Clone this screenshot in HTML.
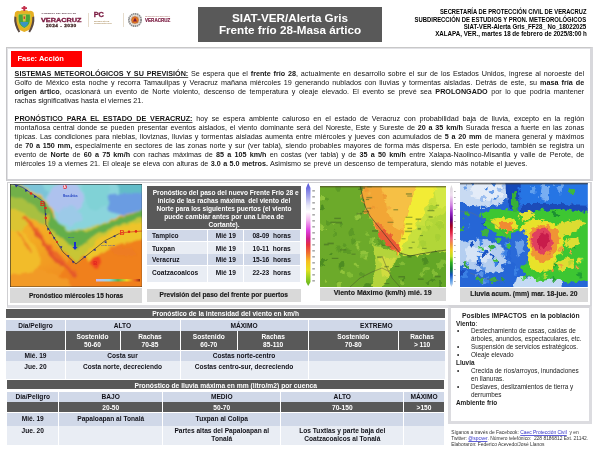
<!DOCTYPE html>
<html lang="es">
<head>
<meta charset="utf-8">
<title>SIAT-VER Alerta Gris Frente frío 28</title>
<style>
*{margin:0;padding:0;box-sizing:border-box}
html,body{width:600px;height:450px;overflow:hidden;background:#fff}
body{position:relative;font-family:"Liberation Sans",Arial,sans-serif;color:#222}
.a{position:absolute}
.title{left:198px;top:7px;width:184px;height:35px;background:#595959;color:#fff;font-weight:bold;font-size:11.7px;line-height:12.3px;text-align:center;padding-top:5.2px}
.hdr{right:13.6px;text-align:right;font-weight:bold;color:#000;white-space:nowrap}
.box1{left:6px;top:47px;width:587px;height:134px;border:1px solid #c6c6c8;border-right:3px solid #d8d8dc;border-bottom:2px solid #d0d0d4;border-top:1px solid #c8c8c8;box-shadow:inset 1px 1px 0 #e2e2e6}
.fase{left:11px;top:51px;width:71px;height:15.5px;background:#f00;color:#fff;font-weight:bold;font-size:7.5px;line-height:15.5px;padding-left:6.5px}
.p{left:14.6px;width:569.6px;font-size:7.2px;line-height:9px;color:#141414}
.p div{text-align:justify;text-align-last:justify;white-space:nowrap}
.p div.l{text-align-last:left}
.u{text-decoration:underline;text-decoration-thickness:1px;text-underline-offset:0.5px;text-decoration-color:#555}
b{font-weight:bold}
.box2{left:7px;top:181.5px;width:585px;height:126px;border:1px solid #cfcfd2;border-right:2px solid #d8d8dc;border-bottom:3px solid #dedee2}
.cap{background:#d9d9d9;color:#1a1a1a;font-weight:bold;text-align:center;font-size:6.6px;white-space:nowrap;-webkit-text-stroke:0.15px #1a1a1a}
.dk{background:#595959;color:#fff}
.b1{background:#d0d8e8}
.b2{background:#e9edf4}
.vl{background:#fff}
.c{font-weight:bold;color:#111118;white-space:nowrap;text-align:center}
.w{font-weight:bold;color:#fff;white-space:nowrap;text-align:center}
.imp{left:447.5px;top:304.5px;width:144.5px;height:119.5px;border:3px solid #dcdce0;border-top:3.5px solid #d4d4d8;background:#fff}
.imptx{left:456px;top:311.6px;font-size:6.4px;line-height:7.92px;color:#1a1a1a;white-space:nowrap}
.imptx .bu{display:inline-block;width:15px;padding-left:1px}
.imptx .ind{padding-left:15px}
.foot{left:451.2px;top:429.7px;font-size:4.9px;line-height:6px;color:#333;white-space:nowrap}
.foot u{color:#3030c8;text-decoration:underline;text-decoration-thickness:0.5px;text-underline-offset:0.8px;text-decoration-color:#6060d8}
</style>
</head>
<body>
<svg class="a" style="left:10px;top:3px" width="30" height="32" viewBox="0 0 30 32">
<path d="M5,9.5 Q7,6.8 10,8.3 Q12,6.3 14.3,7.8 Q16.6,6.3 18.6,8.3 Q21.6,6.8 23.6,9.5 L24,12.5 Q24.5,20 22,24.5 Q19,27.8 14.3,29 Q9.6,27.8 6.6,24.5 Q4,20 4.6,12.5 Z" fill="#e6b024"/>
<path d="M8,10.8 L20.6,10.8 Q21.3,18 19.6,21.3 Q17.5,24.6 14.3,25.8 Q11.1,24.6 9,21.3 Q7.3,18 8,10.8 Z" fill="#c8cc3c"/>
<path d="M8.8,11.6 L19.8,11.6 Q20.4,18 18.9,21 Q17,24 14.3,24.9 Q11.6,24 9.7,21 Q8.2,18 8.8,11.6 Z" fill="#4aa43a"/>
<path d="M10.2,19 L18.4,19 Q17.8,22.6 14.3,24.3 Q10.8,22.6 10.2,19 Z" fill="#3a94c4"/>
<path d="M12.6,11.8 L16,11.8 L15.6,18.6 L13,18.6 Z" fill="#d4c444"/>
<path d="M13.5,13.5 L15.1,13.5 L14.9,16 L13.7,16 Z" fill="#c84030"/>
<path d="M4.4,13.5 Q3.4,21.5 8.6,29.5 L10.2,28.6 Q5.9,21.5 6.3,14 Z" fill="#5a4a44"/>
<path d="M24.2,13.5 Q25.2,21.5 20,29.5 L18.4,28.6 Q22.7,21.5 22.3,14 Z" fill="#5a4a44"/>
<path d="M13.3,2.9 L15.3,2.9 L15.3,4.3 L17,4.3 L17,6.1 L15.3,6.1 L15.3,8 L13.3,8 L13.3,6.1 L11.6,6.1 L11.6,4.3 L13.3,4.3 Z" fill="#c4304c"/>
</svg>
<div class="a" style="left:41.5px;top:11.8px;width:40px;font-size:2.35px;line-height:3px;font-weight:bold;color:#4a2a38;white-space:nowrap;letter-spacing:0.12px">GOBIERNO DEL ESTADO DE</div>
<div class="a" style="left:41.4px;top:15.7px;font-size:6px;line-height:8px;font-weight:900;color:#7a1a40;white-space:nowrap;letter-spacing:0px;transform:scaleX(1.215);transform-origin:0 0;-webkit-text-stroke:0.35px #7a1a40">VERACRUZ</div>
<div class="a" style="left:45.6px;top:22.6px;font-size:4.4px;line-height:5px;font-weight:bold;color:#4a3030;white-space:nowrap;letter-spacing:0.45px;transform:scaleX(1.08);transform-origin:0 0;-webkit-text-stroke:0.3px #4a3030">2024 - 2030</div>
<div class="a" style="left:88.3px;top:13px;width:0.7px;height:14px;background:#e6dccc"></div>
<div class="a" style="left:93.8px;top:11.2px;font-size:7.4px;line-height:8px;font-weight:bold;color:#7a1a40;white-space:nowrap;letter-spacing:-0.2px;-webkit-text-stroke:0.3px #7a1a40">PC</div>
<div class="a" style="left:94px;top:20px;font-size:1.9px;line-height:2.3px;font-weight:bold;color:#a88a58;white-space:nowrap">SECRETARÍA DE<br>PROTECCIÓN CIVIL</div>
<div class="a" style="left:122.6px;top:12.7px;width:0.7px;height:14.3px;background:#e6dccc"></div>
<svg class="a" style="left:127.5px;top:13.3px" width="14" height="14" viewBox="0 0 14 14">
<circle cx="7" cy="7" r="6.1" fill="none" stroke="#8c8c8c" stroke-width="1.9" stroke-dasharray="1.5 0.5"/>
<circle cx="7" cy="7" r="4.4" fill="#fff" stroke="#c0a070" stroke-width="0.5"/>
<circle cx="7" cy="7" r="3.6" fill="#e87a20" stroke="#7a3a30" stroke-width="0.4"/>
<path d="M7,4.6 L9,8.6 L5,8.6 Z" fill="#7a1a40"/>
</svg>
<div class="a" style="left:145px;top:16.3px;font-size:1.55px;line-height:2.2px;font-weight:bold;color:#b07a70;white-space:nowrap">PROTECCIÓN CIVIL DEL ESTADO</div>
<div class="a" style="left:145px;top:18.2px;font-size:5px;line-height:5px;font-weight:900;color:#7a1a40;white-space:nowrap;letter-spacing:0.05px;transform:scaleX(0.9);transform-origin:0 0;-webkit-text-stroke:0.2px #7a1a40">VERACRUZ</div>
<div class="a title">SIAT-VER/Alerta Gris<br>Frente frío 28-Masa ártico</div>
<div class="a hdr" style="font-size:6.3px;line-height:8px;top:8.30px;transform:scaleX(0.919);transform-origin:100% 50%">SECRETARÍA DE PROTECCIÓN CIVIL DE VERACRUZ</div>
<div class="a hdr" style="font-size:6.3px;line-height:8px;top:15.80px;transform:scaleX(0.937);transform-origin:100% 50%">SUBDIRECCIÓN DE ESTUDIOS Y PRON. METEOROLÓGICOS</div>
<div class="a hdr" style="font-size:6.3px;line-height:8px;top:22.90px;transform:scaleX(0.971);transform-origin:100% 50%">SIAT-VER-Alerta Gris_FF28_ No_18022025</div>
<div class="a hdr" style="font-size:6.3px;line-height:8px;top:30.40px;transform:scaleX(0.986);transform-origin:100% 50%">XALAPA, VER., martes 18 de febrero de 2025/8:00 h</div>
<div class="a box1"></div>
<div class="a fase">Fase: Acción</div>
<div class="a p" style="top:68.5px">
<div><b class="u">SISTEMAS METEOROLÓGICOS Y SU PREVISIÓN:</b> Se espera que el <b>frente frío 28</b>, actualmente en desarrollo sobre el sur de los Estados Unidos, ingrese al noroeste del</div>
<div>Golfo de México esta noche y recorra Tamaulipas y Veracruz mañana miércoles 19 generando nublados con lluvias y tormentas aisladas. Detrás de este, su <b>masa fría de</b></div>
<div><b>origen ártico</b>, ocasionará un evento de Norte violento, descenso de temperatura y oleaje elevado. El evento se prevé sea <b>PROLONGADO</b> por lo que podría mantener</div>
<div class="l">rachas significativas hasta el viernes 21.</div>
</div>
<div class="a p" style="top:113.9px">
<div><b class="u">PRONÓSTICO PARA EL ESTADO DE VERACRUZ:</b> hoy se espera ambiente caluroso en el estado de Veracruz con probabilidad baja de lluvia, excepto en la región</div>
<div>montañosa central donde se pueden presentar eventos aislados, el viento dominante será del Noreste, Este y Sureste de <b>20 a 35 km/h</b> Surada fresca a fuerte en las zonas</div>
<div>típicas. Las condiciones para nieblas, lloviznas, lluvias y tormentas aisladas aumenta entre miércoles y jueves con acumulados de <b>5 a 20 mm</b> de manera general y máximos</div>
<div>de <b>70 a 150 mm,</b> especialmente en sectores de las zonas norte y sur (ver tabla), siendo probables mayores de forma más dispersa. En este periodo, también se registra un</div>
<div>evento de <b>Norte</b> de <b>60 a 75 km/h</b> con rachas máximas de <b>85 a 105 km/h</b> en costas (ver tabla) y de <b>35 a 50 km/h</b> entre Xalapa-Naolinco-Misantla y valle de Perote, de</div>
<div class="l" style="word-spacing:0.4px">miércoles 19 a viernes 21. El oleaje se eleva con alturas de <b>3.0 a 5.0 metros.</b> Asimismo se prevé un descenso de temperatura, siendo más notable el jueves.</div>
</div>
<div class="a box2"></div>
<svg class="a" style="left:10px;top:184.3px" width="132.4" height="103.2" viewBox="0 0 132.4 103.2">
<defs>
<filter id="bl1" x="-20%" y="-20%" width="140%" height="140%"><feTurbulence type="fractalNoise" baseFrequency="0.12" numOctaves="2" seed="2" result="n"/><feDisplacementMap in="SourceGraphic" in2="n" scale="6" xChannelSelector="R" yChannelSelector="G" result="d"/><feGaussianBlur in="d" stdDeviation="1.2"/></filter>
<clipPath id="cp1"><rect width="132.4" height="103.2"/></clipPath>
<linearGradient id="g1cold" x1="0" y1="0" x2="1" y2="0">
<stop offset="0" stop-color="#9ec8ea"/><stop offset="0.35" stop-color="#b4cdf0"/><stop offset="0.6" stop-color="#86d4dc"/><stop offset="1" stop-color="#6cb8d8"/>
</linearGradient>
<linearGradient id="g1base" x1="0" y1="0" x2="0.6" y2="1">
<stop offset="0" stop-color="#f4c02a"/><stop offset="0.5" stop-color="#f3a824"/><stop offset="1" stop-color="#f07e1c"/>
</linearGradient>
</defs>
<g clip-path="url(#cp1)">
<g filter="url(#bl1)">
<rect x="-5" y="-5" width="145" height="115" fill="url(#g1base)"/>
<!-- orange warm right/bottom -->
<path d="M60,72 L95,54 L140,44 L140,110 L40,110 Z" fill="#f0801e"/>
<path d="M-5,40 L12,44 L30,70 L28,92 L-5,96 Z" fill="#f2bc2c"/>
<path d="M-5,92 L30,86 L60,96 L60,110 L-5,110 Z" fill="#f29a26"/>
<!-- yellow warm sector right -->
<path d="M70,66 L95,50 L115,40 L140,33 L140,54 L116,58 L98,66 L80,78 Z" fill="#eec42c"/>
<!-- yellow-green inside V -->
<path d="M38,30 L60,44 L90,40 L140,25 L140,36 L110,43 L92,52 L66,80 L50,62 L37,44 Z" fill="#c8c634"/>
<!-- green band -->
<path d="M38,20 L46,36 L58,47 L76,46 L95,40 L112,33 L140,24 L140,31 L112,40 L92,48 L78,57 L66,66 L54,57 L39,43 Z" fill="#64ae4a"/>
<!-- green/teal top-left -->
<path d="M-5,-2 L12,3 L34,17 L40,24 L36,32 L26,24 L14,20 L-5,20 Z" fill="#72b04a"/>
<path d="M-5,14 L12,14 L28,24 L36,34 L36,42 L24,36 L10,30 L-5,30 Z" fill="#a8c040"/>
<path d="M-5,26 L8,26 L20,34 L14,46 L-5,46 Z" fill="#dcc430"/>
<!-- cold region -->
<path d="M-5,-5 L140,-5 L140,24 L111,32 L93,39 L74,44 L58,46 L48,38 L42,24 L36,16 L13,2 L-5,-3 Z" fill="#8ad4dc"/>
<path d="M-5,-5 L30,-5 L38,10 L36,16 L13,2 L-5,-3 Z" fill="#7cc4d8"/>
<ellipse cx="56" cy="14" rx="18" ry="16" fill="#aec2ee"/>
<ellipse cx="60" cy="32" rx="12" ry="9" fill="#9ccae8"/>
<path d="M96,12 L140,6 L140,24 L111,32 L98,28 Z" fill="#6a9ce2"/>
<path d="M104,-5 L140,-5 L140,8 L110,10 Z" fill="#62bcc8"/>
<path d="M72,-5 L100,-5 L98,20 L84,28 L76,18 Z" fill="#80d2d6"/>
<!-- sierra madre stripes -->
<path d="M12,32 L16,32 L42,64 L66,88 L63,90 L38,67 Z" fill="#ec6a26"/>
<path d="M22,46 L25,46 L48,75 L68,92 L65,93 L44,77 Z" fill="#e4562a"/>
<path d="M6,46 L9,47 L22,68 L19,69 Z" fill="#ee8826"/>
<!-- yucatan red blob -->
<ellipse cx="86" cy="78" rx="5" ry="6" fill="#f04420"/>
<path d="M98,62 L122,64 L128,72 L104,70 Z" fill="#ee7a20" opacity="0.8"/>
</g>
<!-- front lines -->
<polyline points="1,-1 12.7,3.5 34.7,18.5" fill="none" stroke="#2030a0" stroke-width="0.7"/>
<polyline points="34.7,18.5 35.9,40.5 53,68 66,80 95,56.7 108.8,49.8" fill="none" stroke="#1a1e40" stroke-width="0.6"/>
<polyline points="108.8,49.8 113,48.6 132.4,47" fill="none" stroke="#d02020" stroke-width="0.6"/>
<g fill="#1c2298">
<path d="M5,1 l3,0.5 l-2,2 z"/><path d="M15,5 l3,1.5 l-2.5,1.5 z"/><path d="M24,11 l3,1.8 l-2.7,1.2 z"/>
<path d="M35,29 l2,1 l-2,1.5 z"/><path d="M37,44 l2.4,0.8 l-1.6,2 z"/><path d="M43,53 l2.4,0.6 l-1.4,2.2 z"/>
<path d="M50,62 l2.4,0.6 l-1.2,2.2 z"/><path d="M57,71 l2.4,0.4 l-1,2.2 z"/><path d="M62,77 l2.4,0.6 l-1.4,2 z"/>
<path d="M73,73 l2.4,-1.2 l0.4,2.4 z"/><path d="M83,66 l2.4,-1.4 l0.4,2.4 z"/><path d="M94,58 l2.4,-1 l0.2,2.4 z"/><path d="M103,52 l2.4,-0.8 l0,2.4 z"/>
</g>
<g fill="#e02818">
<circle cx="21" cy="9.5" r="1.3"/><circle cx="35.5" cy="24" r="1.3"/><circle cx="35.8" cy="34" r="1.2"/><circle cx="40" cy="49" r="1.2"/><circle cx="47" cy="58" r="1.1"/>
<circle cx="119" cy="47.8" r="1.3"/><circle cx="126" cy="47.4" r="1.3"/>
</g>
<text x="30" y="22.5" font-family="Liberation Sans,Arial,sans-serif" font-weight="bold" font-size="7" fill="#e02818">B</text>
<text x="109.5" y="51.5" font-family="Liberation Sans,Arial,sans-serif" font-weight="bold" font-size="7" fill="#e84020">B</text>
<text x="83.2" y="81" font-family="Liberation Sans,Arial,sans-serif" font-weight="bold" font-size="5.5" fill="#e02020">B</text>
<circle cx="55" cy="3" r="2" fill="#e03040"/><text x="53.6" y="4.3" font-family="Liberation Sans,Arial,sans-serif" font-weight="bold" font-size="3.4" fill="#fff">A</text>
<text x="53" y="13" font-family="Liberation Sans,Arial,sans-serif" font-weight="bold" font-size="2.6" fill="#2040c0">Masa Ártica</text>
<text x="58" y="54" font-family="Liberation Sans,Arial,sans-serif" font-size="2.2" fill="#2040c0">Nuevo</text>
<text x="91" y="62" font-family="Liberation Sans,Arial,sans-serif" font-size="2.2" fill="#2040c0">Frente Frío 28</text>
<path d="M64,58 l0,5 l-1.5,0 l2.5,3 l2.5,-3 l-1.5,0 l0,-5 z" fill="#1a30d0"/>
<!-- legend bar -->
<rect x="86" y="95" width="44" height="2.5" fill="url(#g1leg)"/>
<linearGradient id="g1leg"><stop offset="0" stop-color="#c8b8f0"/><stop offset="0.3" stop-color="#90d8e0"/><stop offset="0.5" stop-color="#60b050"/><stop offset="0.7" stop-color="#f0d020"/><stop offset="0.9" stop-color="#e86020"/><stop offset="1" stop-color="#903010"/></linearGradient>
</g>
<rect x="0.3" y="0.3" width="131.8" height="102.6" fill="none" stroke="#2a2a2a" stroke-width="0.6"/>
</svg>
<div class="a cap" style="left:10px;top:287.6px;width:132.2px;height:15.0px;font-size:6.48px;line-height:15.31px">Pronóstico miércoles 15 horas</div>
<div class="a dk" style="left:146.7px;top:186.0px;width:154.1px;height:43.0px;"></div>
<div class="a w" style="left:146.7px;top:190.30px;width:154.1px;font-size:7.10px;line-height:7.9px;transform:scaleX(0.926);transform-origin:50% 50%;">Pronóstico del paso del nuevo Frente Frío 28 e<br>inicio de las rachas máxima&nbsp; del viento del<br>Norte para los siguientes puertos (el viento<br>puede cambiar antes por una Línea de<br>Cortante).</div>
<div class="a b1" style="left:146.7px;top:230.3px;width:153.8px;height:11.2px;"></div>
<div class="a b2" style="left:146.7px;top:241.5px;width:153.8px;height:12.8px;"></div>
<div class="a b1" style="left:146.7px;top:254.3px;width:153.8px;height:11.2px;"></div>
<div class="a b2" style="left:146.7px;top:265.5px;width:153.8px;height:16.8px;"></div>
<div class="a vl" style="left:207.2px;top:230.3px;width:1.0px;height:52.0px;"></div>
<div class="a vl" style="left:242.7px;top:230.3px;width:1.0px;height:52.0px;"></div>
<div class="a c" style="left:151.5px;top:232.30px;width:55.5px;font-size:7.13px;line-height:8px;transform:scaleX(0.926);transform-origin:0 50%;text-align:left">Tampico</div>
<div class="a c" style="left:207.5px;top:232.30px;width:35.7px;font-size:7.13px;line-height:8px;transform:scaleX(0.926);transform-origin:50% 50%;">Mié 19</div>
<div class="a c" style="left:243.2px;top:232.30px;width:57.3px;font-size:7.13px;line-height:8px;transform:scaleX(0.926);transform-origin:50% 50%;">08-09&nbsp; horas</div>
<div class="a c" style="left:151.5px;top:245.00px;width:55.5px;font-size:7.13px;line-height:8px;transform:scaleX(0.926);transform-origin:0 50%;text-align:left">Tuxpan</div>
<div class="a c" style="left:207.5px;top:245.00px;width:35.7px;font-size:7.13px;line-height:8px;transform:scaleX(0.926);transform-origin:50% 50%;">Mié 19</div>
<div class="a c" style="left:243.2px;top:245.00px;width:57.3px;font-size:7.13px;line-height:8px;transform:scaleX(0.926);transform-origin:50% 50%;">10-11&nbsp; horas</div>
<div class="a c" style="left:151.5px;top:256.30px;width:55.5px;font-size:7.13px;line-height:8px;transform:scaleX(0.926);transform-origin:0 50%;text-align:left">Veracruz</div>
<div class="a c" style="left:207.5px;top:256.30px;width:35.7px;font-size:7.13px;line-height:8px;transform:scaleX(0.926);transform-origin:50% 50%;">Mié 19</div>
<div class="a c" style="left:243.2px;top:256.30px;width:57.3px;font-size:7.13px;line-height:8px;transform:scaleX(0.926);transform-origin:50% 50%;">15-16&nbsp; horas</div>
<div class="a c" style="left:151.5px;top:269.00px;width:55.5px;font-size:7.13px;line-height:8px;transform:scaleX(0.926);transform-origin:0 50%;text-align:left">Coatzacoalcos</div>
<div class="a c" style="left:207.5px;top:269.00px;width:35.7px;font-size:7.13px;line-height:8px;transform:scaleX(0.926);transform-origin:50% 50%;">Mié 19</div>
<div class="a c" style="left:243.2px;top:269.00px;width:57.3px;font-size:7.13px;line-height:8px;transform:scaleX(0.926);transform-origin:50% 50%;">22-23&nbsp; horas</div>
<div class="a cap" style="left:147px;top:288.8px;width:153.5px;height:13.7px;font-size:6.61px;line-height:12.42px">Previsión del paso del frente por puertos</div>
<svg class="a" style="left:304px;top:182px" width="14" height="106" viewBox="0 0 14 106">
<defs><linearGradient id="cb1" x1="0" y1="0" x2="0" y2="1">
<stop offset="0" stop-color="#5050d8"/><stop offset="0.12" stop-color="#a0a0ec"/><stop offset="0.22" stop-color="#e8e8f8"/><stop offset="0.28" stop-color="#ffffff"/>
<stop offset="0.36" stop-color="#f4b8f0"/><stop offset="0.46" stop-color="#e040e0"/><stop offset="0.54" stop-color="#d02090"/><stop offset="0.6" stop-color="#e83040"/>
<stop offset="0.68" stop-color="#f07030"/><stop offset="0.76" stop-color="#f8c020"/><stop offset="0.84" stop-color="#e8e020"/><stop offset="0.92" stop-color="#98d020"/><stop offset="1" stop-color="#60b020"/>
</linearGradient></defs>
<path d="M2,6 L4.2,1 L6.5,6 L6.5,100 L4.2,104 L2,100 Z" fill="url(#cb1)"/>
<g fill="#888"><rect x="8.3" y="8" width="2.6" height="1.6" fill="#aaa"/><rect x="8.3" y="14" width="2.6" height="1.6" fill="#aaa"/><rect x="8.3" y="20" width="2.6" height="1.6" fill="#aaa"/><rect x="8.3" y="26" width="2.6" height="1.6" fill="#aaa"/><rect x="8.3" y="32" width="2.6" height="1.6" fill="#aaa"/><rect x="8.3" y="38" width="2.6" height="1.6" fill="#aaa"/><rect x="8.3" y="44" width="2.6" height="1.6" fill="#aaa"/><rect x="8.3" y="50" width="2.6" height="1.6" fill="#aaa"/><rect x="8.3" y="56" width="2.6" height="1.6" fill="#aaa"/><rect x="8.3" y="62" width="2.6" height="1.6" fill="#aaa"/><rect x="8.3" y="68" width="2.6" height="1.6" fill="#aaa"/><rect x="8.3" y="74" width="2.6" height="1.6" fill="#aaa"/><rect x="8.3" y="80" width="2.6" height="1.6" fill="#aaa"/><rect x="8.3" y="86" width="2.6" height="1.6" fill="#aaa"/><rect x="8.3" y="92" width="2.6" height="1.6" fill="#aaa"/><rect x="8.3" y="98" width="2.6" height="1.6" fill="#aaa"/></g>
</svg>
<svg class="a" style="left:319.5px;top:186px" width="126.5" height="101" viewBox="0 0 126.5 101">
<defs>
<filter id="bl2" x="-20%" y="-20%" width="140%" height="140%"><feTurbulence type="fractalNoise" baseFrequency="0.16" numOctaves="2" seed="9" result="n"/><feDisplacementMap in="SourceGraphic" in2="n" scale="7" xChannelSelector="R" yChannelSelector="G" result="d"/><feGaussianBlur in="d" stdDeviation="0.5"/></filter>
<filter id="bl2b" x="-20%" y="-20%" width="140%" height="140%"><feGaussianBlur stdDeviation="0.45"/></filter>
<clipPath id="cp2"><rect width="126.5" height="101"/></clipPath>
</defs>
<g clip-path="url(#cp2)">
<g filter="url(#bl2)">
<rect x="-5" y="-5" width="137" height="111" fill="#6caa2a"/>
<ellipse cx="78.5" cy="74.9" rx="3.1" ry="3.4" fill="#82bc34"/><ellipse cx="105.9" cy="78.4" rx="2.0" ry="1.6" fill="#5c9a26"/><ellipse cx="14.3" cy="47.4" rx="2.0" ry="2.6" fill="#5c9a26"/><ellipse cx="1.7" cy="21.9" rx="2.1" ry="3.3" fill="#4e8c22"/><ellipse cx="20.1" cy="80.5" rx="1.8" ry="2.7" fill="#5c9a26"/><ellipse cx="16.7" cy="98.2" rx="1.5" ry="3.0" fill="#5c9a26"/><ellipse cx="118.6" cy="69.8" rx="3.4" ry="3.3" fill="#90c43a"/><ellipse cx="2.7" cy="41.9" rx="3.4" ry="2.0" fill="#90c43a"/><ellipse cx="38.0" cy="60.9" rx="1.5" ry="2.9" fill="#90c43a"/><ellipse cx="8.3" cy="35.9" rx="2.1" ry="2.9" fill="#5c9a26"/><ellipse cx="60.6" cy="71.2" rx="1.6" ry="3.5" fill="#82bc34"/><ellipse cx="50.9" cy="55.5" rx="2.3" ry="2.3" fill="#82bc34"/><ellipse cx="57.1" cy="71.5" rx="2.7" ry="3.4" fill="#82bc34"/><ellipse cx="95.2" cy="93.9" rx="3.4" ry="2.2" fill="#90c43a"/><ellipse cx="58.3" cy="59.6" rx="3.1" ry="2.2" fill="#90c43a"/><ellipse cx="4.6" cy="95.5" rx="1.7" ry="2.2" fill="#90c43a"/><ellipse cx="39.4" cy="32.0" rx="1.9" ry="1.7" fill="#5c9a26"/><ellipse cx="61.0" cy="72.7" rx="1.7" ry="2.7" fill="#4e8c22"/><ellipse cx="4.0" cy="74.8" rx="2.2" ry="2.0" fill="#4e8c22"/><ellipse cx="18.3" cy="98.9" rx="2.8" ry="3.1" fill="#90c43a"/><ellipse cx="92.2" cy="95.9" rx="2.8" ry="3.1" fill="#82bc34"/><ellipse cx="21.3" cy="37.7" rx="1.6" ry="2.3" fill="#5c9a26"/><ellipse cx="57.1" cy="100.9" rx="3.2" ry="3.5" fill="#4e8c22"/><ellipse cx="121.0" cy="69.6" rx="2.1" ry="2.0" fill="#4e8c22"/><ellipse cx="47.5" cy="99.8" rx="3.4" ry="2.8" fill="#4e8c22"/><ellipse cx="62.0" cy="52.0" rx="2.6" ry="2.5" fill="#82bc34"/><ellipse cx="99.0" cy="78.3" rx="2.9" ry="2.8" fill="#90c43a"/><ellipse cx="45.8" cy="71.2" rx="2.1" ry="2.5" fill="#90c43a"/><ellipse cx="22.5" cy="86.0" rx="2.4" ry="3.0" fill="#90c43a"/><ellipse cx="81.2" cy="74.5" rx="3.2" ry="2.2" fill="#5c9a26"/><ellipse cx="109.6" cy="69.5" rx="3.5" ry="3.4" fill="#5c9a26"/><ellipse cx="105.4" cy="94.7" rx="2.5" ry="2.9" fill="#4e8c22"/><ellipse cx="21.7" cy="78.8" rx="2.7" ry="2.8" fill="#4e8c22"/><ellipse cx="38.1" cy="55.9" rx="3.2" ry="2.0" fill="#82bc34"/><ellipse cx="24.6" cy="59.2" rx="2.7" ry="1.9" fill="#5c9a26"/><ellipse cx="6.8" cy="13.5" rx="2.1" ry="1.9" fill="#5c9a26"/><ellipse cx="44.2" cy="66.9" rx="1.6" ry="1.9" fill="#90c43a"/><ellipse cx="0.1" cy="40.9" rx="2.1" ry="2.3" fill="#82bc34"/><ellipse cx="38.0" cy="29.8" rx="2.5" ry="3.4" fill="#90c43a"/><ellipse cx="120.7" cy="82.7" rx="2.3" ry="3.1" fill="#90c43a"/><ellipse cx="48.2" cy="48.2" rx="1.9" ry="1.8" fill="#82bc34"/><ellipse cx="44.2" cy="90.2" rx="1.5" ry="1.7" fill="#5c9a26"/><ellipse cx="41.0" cy="88.5" rx="2.6" ry="2.4" fill="#5c9a26"/><ellipse cx="62.2" cy="48.4" rx="2.9" ry="2.3" fill="#5c9a26"/><ellipse cx="52.4" cy="32.2" rx="3.5" ry="2.5" fill="#90c43a"/><ellipse cx="18.1" cy="2.4" rx="2.8" ry="3.4" fill="#5c9a26"/><ellipse cx="36.9" cy="79.0" rx="3.2" ry="1.5" fill="#90c43a"/><ellipse cx="30.7" cy="47.9" rx="1.6" ry="2.5" fill="#5c9a26"/><ellipse cx="62.0" cy="100.2" rx="2.5" ry="3.2" fill="#82bc34"/><ellipse cx="2.0" cy="12.7" rx="2.1" ry="2.9" fill="#90c43a"/><ellipse cx="44.1" cy="68.9" rx="3.1" ry="1.8" fill="#82bc34"/><ellipse cx="31.8" cy="46.0" rx="3.3" ry="3.3" fill="#5c9a26"/><ellipse cx="1.8" cy="78.6" rx="2.4" ry="2.7" fill="#4e8c22"/><ellipse cx="108.2" cy="85.0" rx="2.5" ry="2.9" fill="#5c9a26"/><ellipse cx="0.4" cy="78.7" rx="2.7" ry="2.8" fill="#4e8c22"/><ellipse cx="60.3" cy="55.5" rx="2.5" ry="2.2" fill="#5c9a26"/><ellipse cx="53.6" cy="54.7" rx="1.6" ry="3.0" fill="#90c43a"/><ellipse cx="103.3" cy="80.0" rx="2.8" ry="1.6" fill="#4e8c22"/><ellipse cx="123.3" cy="100.8" rx="2.9" ry="1.6" fill="#82bc34"/><ellipse cx="27.6" cy="65.2" rx="3.4" ry="2.9" fill="#5c9a26"/><ellipse cx="125.3" cy="71.3" rx="2.4" ry="1.9" fill="#5c9a26"/><ellipse cx="13.6" cy="38.3" rx="1.6" ry="1.6" fill="#82bc34"/><ellipse cx="93.5" cy="88.7" rx="1.8" ry="2.4" fill="#90c43a"/><ellipse cx="44.5" cy="66.3" rx="3.3" ry="1.8" fill="#90c43a"/><ellipse cx="19.0" cy="63.8" rx="2.5" ry="3.3" fill="#5c9a26"/><ellipse cx="33.2" cy="55.7" rx="2.0" ry="3.0" fill="#5c9a26"/><ellipse cx="101.8" cy="87.2" rx="2.4" ry="2.3" fill="#5c9a26"/><ellipse cx="10.7" cy="67.5" rx="1.7" ry="1.7" fill="#4e8c22"/><ellipse cx="30.1" cy="88.6" rx="2.5" ry="2.1" fill="#82bc34"/><ellipse cx="106.9" cy="95.4" rx="2.4" ry="3.1" fill="#82bc34"/>
<!-- right yellow-green -->
<path d="M96,-5 L132,-5 L132,70 L100,70 L82,70 L80,60 L88,40 Z" fill="#c8e03c"/>
<path d="M106,34 L132,24 L132,66 L112,68 L96,62 Z" fill="#b2d638"/>
<path d="M112,-5 L132,-5 L132,20 L118,22 Z" fill="#d4e844"/>
<ellipse cx="102.2" cy="61.9" rx="3.0" ry="2.4" fill="#bcdc3a"/><ellipse cx="109.2" cy="30.8" rx="2.7" ry="3.2" fill="#bcdc3a"/><ellipse cx="120.7" cy="37.4" rx="3.4" ry="2.7" fill="#bcdc3a"/><ellipse cx="120.9" cy="39.9" rx="3.7" ry="3.0" fill="#a8d034"/><ellipse cx="119.2" cy="38.2" rx="2.2" ry="2.1" fill="#a8d034"/><ellipse cx="105.1" cy="42.5" rx="3.9" ry="3.3" fill="#bcdc3a"/><ellipse cx="100.0" cy="41.6" rx="3.8" ry="3.2" fill="#bcdc3a"/><ellipse cx="108.4" cy="41.2" rx="2.4" ry="3.3" fill="#a8d034"/><ellipse cx="109.7" cy="37.7" rx="3.8" ry="2.3" fill="#bcdc3a"/><ellipse cx="102.9" cy="57.6" rx="3.5" ry="3.3" fill="#a8d034"/><ellipse cx="112.5" cy="21.5" rx="3.8" ry="2.7" fill="#a8d034"/><ellipse cx="117.9" cy="51.0" rx="2.9" ry="3.9" fill="#a8d034"/>
<!-- yellow band -->
<path d="M88,-5 L118,-5 L112,12 L102,30 L92,46 L84,60 L80,68 L76,68 L80,40 Z" fill="#f2ec34"/>
<!-- bottom-middle yellowish corridor -->
<path d="M52,58 L80,68 L78,80 L66,101 L50,101 L56,80 Z" fill="#b4d43a"/>
<path d="M60,70 L76,72 L70,90 L62,92 Z" fill="#d0dc40"/>
<!-- orange -->
<path d="M41,-5 L96,-5 L92,12 L87,30 L82,46 L79,62 L78,68 L70,62 L60,50 L52,36 L45,22 L42,8 Z" fill="#f2a636"/>
<path d="M60,-5 L96,-5 L92,12 L87,30 L82,44 L74,40 L66,22 Z" fill="#f6c044"/>
<ellipse cx="64.8" cy="11.1" rx="2.2" ry="1.9" fill="#ee9a30"/><ellipse cx="46.8" cy="22.0" rx="2.4" ry="2.5" fill="#f4b040"/><ellipse cx="67.9" cy="21.8" rx="2.5" ry="1.8" fill="#f4b040"/><ellipse cx="52.8" cy="22.5" rx="2.6" ry="1.7" fill="#ee9a30"/><ellipse cx="50.2" cy="7.8" rx="1.6" ry="2.4" fill="#f4b040"/><ellipse cx="46.2" cy="3.7" rx="2.7" ry="2.1" fill="#ee9a30"/><ellipse cx="46.8" cy="25.4" rx="2.8" ry="2.3" fill="#ee9a30"/><ellipse cx="63.2" cy="8.6" rx="2.7" ry="1.6" fill="#f4b040"/>
<!-- red core -->
<path d="M58,42 L64,43 L72,52 L79,60 L80,67 L73,64 L64,56 L58,49 Z" fill="#ea5a36"/>
<path d="M55,36 L60,38 L64,44 L58,46 Z" fill="#ee7a34"/>
<!-- bottom right green darker -->
<path d="M78,72 L132,64 L132,106 L60,106 Z" fill="#64a628"/>
<ellipse cx="82.5" cy="77.5" rx="1.6" ry="2.1" fill="#82bc34"/><ellipse cx="82.2" cy="95.8" rx="2.2" ry="2.5" fill="#82bc34"/><ellipse cx="123.7" cy="76.0" rx="2.5" ry="2.5" fill="#82bc34"/><ellipse cx="104.4" cy="72.6" rx="2.0" ry="1.7" fill="#82bc34"/><ellipse cx="107.5" cy="96.6" rx="1.8" ry="1.5" fill="#4e8c22"/><ellipse cx="102.4" cy="87.7" rx="2.1" ry="2.4" fill="#82bc34"/><ellipse cx="122.0" cy="79.5" rx="2.2" ry="2.7" fill="#82bc34"/><ellipse cx="105.5" cy="74.3" rx="2.2" ry="2.7" fill="#4e8c22"/><ellipse cx="117.7" cy="79.7" rx="1.7" ry="1.6" fill="#82bc34"/><ellipse cx="112.1" cy="94.8" rx="3.0" ry="2.5" fill="#4e8c22"/><ellipse cx="82.8" cy="91.7" rx="1.6" ry="1.8" fill="#4e8c22"/><ellipse cx="120.6" cy="97.5" rx="1.6" ry="2.7" fill="#4e8c22"/><ellipse cx="114.6" cy="87.2" rx="2.8" ry="2.5" fill="#82bc34"/><ellipse cx="106.4" cy="83.7" rx="2.7" ry="2.5" fill="#82bc34"/>
</g>
<g filter="url(#bl2b)" fill="#3e6222" opacity="0.5">
<rect x="87.4" y="70.1" width="4.1" height="1.6"/><rect x="45.9" y="13.0" width="3.3" height="1.1"/><rect x="31.5" y="67.6" width="4.1" height="1.1"/><rect x="91.7" y="55.7" width="3.1" height="1.0"/><rect x="15.6" y="35.7" width="6.4" height="1.8"/><rect x="73.4" y="23.1" width="4.7" height="1.3"/><rect x="39.6" y="1.2" width="5.3" height="1.7"/><rect x="87.2" y="9.5" width="5.1" height="1.1"/><rect x="85.1" y="44.6" width="6.8" height="1.6"/><rect x="14.2" y="31.7" width="6.7" height="1.4"/><rect x="52.1" y="44.1" width="6.1" height="1.7"/><rect x="63.9" y="97.0" width="5.4" height="1.1"/><rect x="97.7" y="41.9" width="3.2" height="1.8"/><rect x="3.9" y="57.7" width="4.9" height="1.7"/><rect x="47.1" y="21.6" width="4.1" height="1.2"/><rect x="67.5" y="35.7" width="6.0" height="1.2"/><rect x="42.2" y="24.8" width="6.9" height="1.7"/><rect x="102.0" y="61.8" width="4.6" height="1.1"/><rect x="99.8" y="49.0" width="3.2" height="1.1"/><rect x="11.8" y="71.8" width="6.6" height="1.2"/><rect x="95.6" y="32.4" width="5.7" height="1.7"/><rect x="74.8" y="80.0" width="4.5" height="1.0"/><rect x="61.4" y="58.7" width="3.7" height="1.3"/><rect x="38.1" y="2.7" width="4.2" height="1.3"/><rect x="57.1" y="70.3" width="4.6" height="1.8"/><rect x="97.9" y="92.4" width="5.8" height="1.5"/><rect x="64.4" y="79.9" width="4.5" height="1.5"/><rect x="81.5" y="52.2" width="4.1" height="1.1"/><rect x="10.5" y="35.6" width="5.3" height="1.6"/><rect x="85.7" y="30.7" width="6.7" height="1.2"/><rect x="85.9" y="7.2" width="6.0" height="1.5"/><rect x="114.8" y="89.7" width="5.8" height="1.7"/><rect x="88.6" y="61.1" width="3.8" height="1.4"/><rect x="107.5" y="23.9" width="6.9" height="1.4"/><rect x="47.2" y="0.3" width="4.6" height="1.1"/><rect x="78.4" y="90.0" width="6.6" height="1.5"/><rect x="46.4" y="10.9" width="5.8" height="1.4"/><rect x="85.8" y="37.4" width="6.5" height="1.2"/><rect x="36.7" y="26.8" width="5.5" height="1.7"/><rect x="20.1" y="63.3" width="6.1" height="1.2"/><rect x="7.5" y="56.6" width="6.3" height="1.7"/><rect x="87.4" y="41.7" width="4.7" height="1.4"/><rect x="108.6" y="30.2" width="4.1" height="1.5"/><rect x="116.0" y="18.7" width="3.1" height="1.1"/><rect x="67.5" y="60.3" width="3.7" height="1.2"/>
</g>
<!-- coast line & borders -->
<polyline points="40,-1 42,8 45,20 50,30 58,40 66,50 74,60 80,67 90,70 100,68 112,66 126.5,64" fill="none" stroke="#303020" stroke-width="0.6"/>
<polyline points="30,101 40,92 52,86 62,82 70,86" fill="none" stroke="#404030" stroke-width="0.4"/>
<polyline points="62,70 66,80 72,92 80,101" fill="none" stroke="#404030" stroke-width="0.4"/>
</g>
<rect x="0" y="0" width="126.5" height="1.4" fill="#505028" opacity="0.7"/>
</svg>
<div class="a cap" style="left:319.5px;top:288px;width:126.3px;height:12.8px;font-size:7.0px;line-height:10.75px">Viento Máximo (km/h) mié. 19</div>
<svg class="a" style="left:447px;top:183px" width="12" height="106" viewBox="0 0 12 106">
<defs><linearGradient id="cb2" x1="0" y1="0" x2="0" y2="1">
<stop offset="0" stop-color="#d8d8d8"/><stop offset="0.1" stop-color="#f0e0f0"/><stop offset="0.2" stop-color="#d080e0"/><stop offset="0.28" stop-color="#9020c0"/><stop offset="0.34" stop-color="#600080"/>
<stop offset="0.4" stop-color="#a00020"/><stop offset="0.46" stop-color="#e02040"/><stop offset="0.52" stop-color="#f06080"/><stop offset="0.58" stop-color="#f09040"/><stop offset="0.64" stop-color="#f0d020"/>
<stop offset="0.7" stop-color="#c0e020"/><stop offset="0.76" stop-color="#30b020"/><stop offset="0.82" stop-color="#108030"/><stop offset="0.88" stop-color="#1050c0"/><stop offset="0.94" stop-color="#60a0e8"/><stop offset="1" stop-color="#d0e0f0"/>
</linearGradient></defs>
<path d="M3,6 L4.4,2 L5.8,6 L5.8,101 L4.4,104 L3,101 Z" fill="url(#cb2)"/>
<g fill="#999"><rect x="7" y="8" width="1.6" height="0.8"/><rect x="7" y="14" width="1.6" height="0.8"/><rect x="7" y="20" width="1.6" height="0.8"/><rect x="7" y="26" width="1.6" height="0.8"/><rect x="7" y="32" width="1.6" height="0.8"/><rect x="7" y="38" width="1.6" height="0.8"/><rect x="7" y="44" width="1.6" height="0.8"/><rect x="7" y="50" width="1.6" height="0.8"/><rect x="7" y="56" width="1.6" height="0.8"/><rect x="7" y="62" width="1.6" height="0.8"/><rect x="7" y="68" width="1.6" height="0.8"/><rect x="7" y="74" width="1.6" height="0.8"/><rect x="7" y="80" width="1.6" height="0.8"/><rect x="7" y="86" width="1.6" height="0.8"/><rect x="7" y="92" width="1.6" height="0.8"/><rect x="7" y="98" width="1.6" height="0.8"/></g>
</svg>
<svg class="a" style="left:460px;top:183px" width="127.8" height="104" viewBox="0 0 127.8 104">
<defs>
<filter id="bl3" x="-20%" y="-20%" width="140%" height="140%"><feTurbulence type="fractalNoise" baseFrequency="0.2" numOctaves="2" seed="4" result="n"/><feDisplacementMap in="SourceGraphic" in2="n" scale="8" xChannelSelector="R" yChannelSelector="G" result="d"/><feGaussianBlur in="d" stdDeviation="0.45"/></filter>
<clipPath id="cp3"><rect width="127.8" height="104"/></clipPath>
</defs>
<g clip-path="url(#cp3)">
<g filter="url(#bl3)">
<rect x="-5" y="-5" width="138" height="114" fill="#2666d6"/>
<ellipse cx="57.9" cy="58.2" rx="3.8" ry="2.7" fill="#5a98ec"/><ellipse cx="109.4" cy="19.7" rx="3.5" ry="2.7" fill="#5a98ec"/><ellipse cx="101.5" cy="9.8" rx="2.3" ry="1.7" fill="#5a98ec"/><ellipse cx="81.2" cy="61.9" rx="2.5" ry="2.6" fill="#5a98ec"/><ellipse cx="78.8" cy="16.4" rx="1.5" ry="2.8" fill="#1a4cbc"/><ellipse cx="4.6" cy="91.5" rx="3.0" ry="3.4" fill="#3a80e4"/><ellipse cx="56.4" cy="87.6" rx="2.8" ry="3.1" fill="#3a80e4"/><ellipse cx="0.6" cy="8.8" rx="3.1" ry="2.5" fill="#5a98ec"/><ellipse cx="127.4" cy="87.4" rx="3.3" ry="2.3" fill="#1a4cbc"/><ellipse cx="65.6" cy="3.1" rx="2.9" ry="1.8" fill="#1a4cbc"/><ellipse cx="108.4" cy="40.2" rx="3.9" ry="3.6" fill="#1a4cbc"/><ellipse cx="27.3" cy="96.4" rx="1.6" ry="2.4" fill="#5a98ec"/><ellipse cx="50.9" cy="7.6" rx="3.1" ry="3.4" fill="#3a80e4"/><ellipse cx="43.1" cy="32.4" rx="1.5" ry="2.5" fill="#1a4cbc"/><ellipse cx="17.2" cy="73.5" rx="1.5" ry="2.7" fill="#3a80e4"/><ellipse cx="22.7" cy="58.2" rx="2.6" ry="2.0" fill="#5a98ec"/><ellipse cx="98.5" cy="43.6" rx="2.5" ry="2.5" fill="#1a4cbc"/><ellipse cx="0.1" cy="89.9" rx="3.9" ry="3.0" fill="#1a4cbc"/><ellipse cx="27.0" cy="41.0" rx="3.6" ry="3.1" fill="#1a4cbc"/><ellipse cx="5.4" cy="15.2" rx="2.6" ry="1.5" fill="#5a98ec"/><ellipse cx="42.1" cy="30.8" rx="1.7" ry="1.7" fill="#5a98ec"/><ellipse cx="81.5" cy="1.6" rx="2.4" ry="3.1" fill="#1a4cbc"/><ellipse cx="122.8" cy="50.3" rx="2.9" ry="3.7" fill="#1a4cbc"/><ellipse cx="80.3" cy="32.3" rx="2.1" ry="3.0" fill="#5a98ec"/><ellipse cx="24.3" cy="76.9" rx="3.9" ry="2.0" fill="#3a80e4"/><ellipse cx="112.9" cy="62.8" rx="2.6" ry="1.8" fill="#1a4cbc"/><ellipse cx="65.6" cy="26.5" rx="3.3" ry="2.5" fill="#3a80e4"/><ellipse cx="105.4" cy="62.0" rx="2.2" ry="1.9" fill="#5a98ec"/><ellipse cx="125.1" cy="13.1" rx="2.7" ry="3.1" fill="#5a98ec"/><ellipse cx="78.6" cy="29.1" rx="3.8" ry="2.0" fill="#1a4cbc"/><ellipse cx="8.9" cy="42.8" rx="2.1" ry="1.6" fill="#3a80e4"/><ellipse cx="47.2" cy="59.5" rx="1.8" ry="2.4" fill="#3a80e4"/><ellipse cx="125.5" cy="68.3" rx="3.2" ry="3.0" fill="#1a4cbc"/><ellipse cx="75.5" cy="96.1" rx="2.7" ry="2.4" fill="#3a80e4"/><ellipse cx="123.2" cy="2.2" rx="3.1" ry="2.7" fill="#5a98ec"/><ellipse cx="39.8" cy="14.2" rx="1.7" ry="2.6" fill="#3a80e4"/><ellipse cx="94.3" cy="93.6" rx="3.3" ry="3.3" fill="#3a80e4"/><ellipse cx="45.0" cy="71.3" rx="3.8" ry="3.7" fill="#3a80e4"/><ellipse cx="120.9" cy="3.1" rx="2.7" ry="1.5" fill="#5a98ec"/><ellipse cx="48.9" cy="60.6" rx="3.0" ry="1.7" fill="#5a98ec"/>
<!-- light top-left -->
<path d="M-5,-5 L50,-5 L48,14 L38,22 L22,24 L6,22 L-5,18 Z" fill="#c8daf2"/>
<path d="M10,0 L42,0 L42,14 L28,18 L12,14 Z" fill="#e4ecf8"/>
<ellipse cx="5.2" cy="5.1" rx="1.9" ry="1.8" fill="#6a9ee8"/><ellipse cx="31.2" cy="9.2" rx="2.0" ry="2.2" fill="#6a9ee8"/><ellipse cx="33.8" cy="0.6" rx="2.3" ry="2.1" fill="#3a7ee0"/><ellipse cx="43.1" cy="2.3" rx="2.6" ry="2.4" fill="#9cbef0"/><ellipse cx="11.5" cy="0.2" rx="1.7" ry="2.4" fill="#3a7ee0"/><ellipse cx="23.3" cy="15.1" rx="1.8" ry="2.9" fill="#9cbef0"/><ellipse cx="40.1" cy="6.5" rx="2.4" ry="1.6" fill="#9cbef0"/><ellipse cx="36.2" cy="15.1" rx="1.6" ry="1.6" fill="#3a7ee0"/><ellipse cx="26.2" cy="6.3" rx="1.4" ry="2.1" fill="#3a7ee0"/><ellipse cx="32.0" cy="19.0" rx="1.7" ry="1.5" fill="#9cbef0"/>
<!-- light bottom-left -->
<path d="M-2,58 L28,56 L42,64 L46,78 L40,90 L20,88 L-2,84 Z" fill="#b4cef0"/>
<path d="M6,64 L26,64 L34,72 L24,80 L8,78 Z" fill="#d6e4f6"/>
<path d="M56,94 L100,92 L104,110 L52,110 Z" fill="#c4daf4"/>
<ellipse cx="23.6" cy="96.7" rx="2.9" ry="2.0" fill="#5a94e8"/><ellipse cx="24.7" cy="69.9" rx="2.9" ry="3.2" fill="#1c54c4"/><ellipse cx="16.0" cy="92.5" rx="1.8" ry="2.4" fill="#5a94e8"/><ellipse cx="35.4" cy="81.1" rx="1.8" ry="2.8" fill="#3a80e4"/><ellipse cx="32.0" cy="73.8" rx="1.6" ry="2.7" fill="#1c54c4"/><ellipse cx="11.9" cy="62.2" rx="1.3" ry="2.5" fill="#1c54c4"/><ellipse cx="5.5" cy="79.6" rx="2.5" ry="1.9" fill="#3a80e4"/><ellipse cx="34.2" cy="64.8" rx="2.2" ry="1.6" fill="#3a80e4"/><ellipse cx="37.8" cy="79.5" rx="1.3" ry="1.7" fill="#1c54c4"/><ellipse cx="27.0" cy="97.7" rx="2.2" ry="3.2" fill="#3a80e4"/><ellipse cx="19.7" cy="90.8" rx="3.0" ry="1.4" fill="#5a94e8"/><ellipse cx="19.4" cy="75.8" rx="1.6" ry="3.0" fill="#3a80e4"/><ellipse cx="18.8" cy="81.0" rx="3.0" ry="2.8" fill="#1c54c4"/><ellipse cx="23.2" cy="84.7" rx="1.6" ry="2.6" fill="#5a94e8"/><ellipse cx="46.2" cy="61.4" rx="1.7" ry="2.0" fill="#3a80e4"/><ellipse cx="48.9" cy="79.6" rx="2.8" ry="1.8" fill="#5a94e8"/><ellipse cx="42.8" cy="71.3" rx="1.4" ry="2.1" fill="#5a94e8"/><ellipse cx="21.1" cy="68.1" rx="3.0" ry="1.6" fill="#3a80e4"/><ellipse cx="21.4" cy="57.5" rx="2.3" ry="2.6" fill="#3a80e4"/><ellipse cx="23.5" cy="100.0" rx="3.0" ry="2.2" fill="#5a94e8"/>
<!-- navy -->
<path d="M46,-5 L60,-5 L58,28 L48,24 Z" fill="#1848b8"/>
<path d="M62,20 L128,22 L128,31 L62,31 Z" fill="#1a4cb8"/>
<!-- top right medium blue -->
<path d="M60,-5 L132,-5 L132,21 L60,21 Z" fill="#2874e4"/>
<path d="M82,2 L90,2 L88,18 L80,16 Z" fill="#78aef2"/>
<path d="M96,2 L104,2 L100,12 Z" fill="#68a4f0"/>
<path d="M70,4 L76,4 L74,12 Z" fill="#60a0ee"/>
<!-- green scattered -->
<ellipse cx="34.5" cy="95.9" rx="2.3" ry="3.1" fill="#2e9c3c"/><ellipse cx="37.9" cy="57.4" rx="2.4" ry="2.9" fill="#40c040"/><ellipse cx="31.9" cy="63.7" rx="2.9" ry="2.5" fill="#3cb040"/><ellipse cx="33.6" cy="96.6" rx="3.0" ry="2.5" fill="#3cb040"/><ellipse cx="42.5" cy="97.6" rx="2.4" ry="2.5" fill="#2e9c3c"/><ellipse cx="20.6" cy="32.7" rx="1.5" ry="2.1" fill="#40c040"/><ellipse cx="48.5" cy="63.2" rx="2.2" ry="2.9" fill="#40c040"/><ellipse cx="6.1" cy="31.1" rx="1.8" ry="3.1" fill="#3cb040"/><ellipse cx="20.7" cy="96.7" rx="3.1" ry="2.0" fill="#3cb040"/><ellipse cx="24.7" cy="49.8" rx="3.0" ry="3.1" fill="#3cb040"/><ellipse cx="26.2" cy="32.3" rx="2.2" ry="1.6" fill="#3cb040"/><ellipse cx="6.5" cy="83.2" rx="1.5" ry="1.8" fill="#2e9c3c"/><ellipse cx="0.6" cy="45.6" rx="2.7" ry="1.9" fill="#3cb040"/><ellipse cx="5.2" cy="79.5" rx="1.7" ry="2.4" fill="#3cb040"/><ellipse cx="35.9" cy="77.3" rx="3.0" ry="1.5" fill="#40c040"/><ellipse cx="20.7" cy="64.2" rx="1.8" ry="1.8" fill="#40c040"/><ellipse cx="26.7" cy="40.6" rx="1.9" ry="2.4" fill="#40c040"/><ellipse cx="42.8" cy="41.7" rx="2.8" ry="2.9" fill="#2e9c3c"/>
<path d="M52,10 L57,8 L58,30 L52,30 Z" fill="#38b038"/>
<circle cx="112" cy="8" r="3" fill="#3cb83c"/>
<!-- main green blob -->
<path d="M22,30 L36,26 L52,28 L64,30 L80,27 L100,26 L118,28 L132,32 L132,96 L110,100 L96,96 L80,98 L66,92 L58,80 L54,66 L50,56 L40,52 L28,46 Z" fill="#3cc632"/>
<ellipse cx="81.5" cy="51.4" rx="3.3" ry="1.9" fill="#22a030"/><ellipse cx="120.4" cy="39.1" rx="2.0" ry="3.0" fill="#50d040"/><ellipse cx="86.4" cy="59.6" rx="3.4" ry="2.6" fill="#1e9030"/><ellipse cx="68.6" cy="57.4" rx="2.9" ry="1.5" fill="#22a030"/><ellipse cx="98.8" cy="54.3" rx="3.1" ry="2.2" fill="#1e9030"/><ellipse cx="94.4" cy="81.6" rx="2.5" ry="2.9" fill="#22a030"/><ellipse cx="114.6" cy="62.8" rx="1.5" ry="3.0" fill="#1e9030"/><ellipse cx="95.0" cy="68.7" rx="1.8" ry="1.9" fill="#22a030"/><ellipse cx="71.7" cy="40.7" rx="2.1" ry="2.8" fill="#1e9030"/><ellipse cx="64.2" cy="94.7" rx="2.4" ry="3.0" fill="#50d040"/><ellipse cx="86.6" cy="59.0" rx="2.2" ry="1.9" fill="#50d040"/><ellipse cx="60.9" cy="77.7" rx="3.2" ry="1.9" fill="#50d040"/><ellipse cx="84.5" cy="55.2" rx="3.3" ry="2.7" fill="#22a030"/><ellipse cx="94.9" cy="31.0" rx="3.3" ry="3.1" fill="#1e9030"/><ellipse cx="119.5" cy="91.8" rx="3.4" ry="2.6" fill="#22a030"/><ellipse cx="94.3" cy="96.8" rx="3.1" ry="2.0" fill="#22a030"/><ellipse cx="110.6" cy="82.9" rx="3.1" ry="2.3" fill="#50d040"/><ellipse cx="119.8" cy="77.2" rx="3.0" ry="3.0" fill="#50d040"/><ellipse cx="74.1" cy="42.6" rx="3.1" ry="2.1" fill="#22a030"/><ellipse cx="60.7" cy="54.2" rx="2.8" ry="2.7" fill="#22a030"/><ellipse cx="78.6" cy="95.4" rx="2.1" ry="1.9" fill="#50d040"/><ellipse cx="98.7" cy="66.2" rx="2.3" ry="3.5" fill="#1e9030"/>
<!-- yellow -->
<path d="M62,40 L78,36 L92,40 L102,48 L104,62 L98,74 L92,86 L80,90 L70,84 L66,74 L64,62 L60,50 Z" fill="#e8e22c"/>
<path d="M30,38 L44,34 L56,38 L58,46 L46,49 L34,44 Z" fill="#e6e02c"/>
<path d="M58,30 L72,28 L76,34 L62,38 Z" fill="#e4e030"/>
<path d="M96,42 L116,36 L126,40 L112,50 L100,54 Z" fill="#dcdc30"/>
<path d="M104,58 L118,54 L120,62 L108,66 Z" fill="#dede30"/>
<path d="M96,78 L112,74 L114,84 L100,88 Z" fill="#dede30"/>
<ellipse cx="73.9" cy="59.8" rx="1.7" ry="1.9" fill="#e0e030"/><ellipse cx="100.0" cy="84.6" rx="1.5" ry="1.7" fill="#e0e030"/><ellipse cx="109.5" cy="80.9" rx="1.2" ry="1.5" fill="#b8d830"/><ellipse cx="118.9" cy="77.0" rx="1.9" ry="2.5" fill="#e0e030"/><ellipse cx="101.5" cy="87.4" rx="1.3" ry="2.0" fill="#e0e030"/><ellipse cx="85.1" cy="92.5" rx="1.7" ry="2.5" fill="#b8d830"/><ellipse cx="95.2" cy="78.9" rx="1.8" ry="1.8" fill="#b8d830"/><ellipse cx="94.2" cy="78.9" rx="1.7" ry="1.6" fill="#b8d830"/><ellipse cx="96.4" cy="66.3" rx="2.1" ry="1.6" fill="#e0e030"/><ellipse cx="110.2" cy="78.4" rx="2.0" ry="1.7" fill="#b8d830"/>
<!-- orange -->
<path d="M38,39 L50,39 L55,46 L48,49 L39,46 Z" fill="#f08a30"/>
<path d="M70,46 L84,42 L96,46 L100,56 L96,68 L90,78 L80,80 L72,72 L70,60 Z" fill="#f09434"/>
<ellipse cx="91.5" cy="70.8" rx="1.7" ry="1.9" fill="#f0a040"/><ellipse cx="92.1" cy="87.4" rx="1.7" ry="1.8" fill="#f09434"/><ellipse cx="91.3" cy="64.8" rx="2.2" ry="2.3" fill="#f09434"/><ellipse cx="117.4" cy="84.9" rx="1.9" ry="1.3" fill="#f0a040"/><ellipse cx="102.8" cy="67.7" rx="1.3" ry="1.8" fill="#f09434"/><ellipse cx="100.2" cy="65.9" rx="1.7" ry="1.9" fill="#f0a040"/><ellipse cx="100.2" cy="82.8" rx="2.2" ry="1.4" fill="#f0a040"/><ellipse cx="110.6" cy="68.7" rx="1.3" ry="2.3" fill="#f0a040"/>
<!-- red core -->
<path d="M74,48 L86,44 L92,52 L93,62 L88,70 L78,72 L72,62 Z" fill="#e0405e"/>
<path d="M78,52 L86,50 L89,58 L85,66 L78,65 Z" fill="#c81e4c"/>
<!-- blue channel left of core -->
<path d="M50,50 L64,48 L69,64 L66,82 L56,86 L50,72 Z" fill="#2a6ad8"/>
<path d="M55,58 L63,56 L64,70 L58,74 Z" fill="#6aa0ea"/>
</g>
<polyline points="0,28 12,30 24,36 36,42 44,50 50,60" fill="none" stroke="#707070" stroke-width="0.4"/>
<polyline points="10,90 26,96 42,98" fill="none" stroke="#707070" stroke-width="0.4"/>
</g>
<rect x="0" y="0" width="127.8" height="1.4" fill="#404040" opacity="0.75"/>
</svg>
<div class="a cap" style="left:459.8px;top:288px;width:128.2px;height:13.8px;font-size:6.72px;line-height:12.94px">Lluvia acum. (mm) mar. 18-jue. 20</div>
<div class="a dk" style="left:5.5px;top:308.5px;width:439.2px;height:9.3px;"></div>
<div class="a w" style="left:5.5px;top:310.40px;width:439.2px;font-size:7.19px;line-height:8px;transform:scaleX(0.926);transform-origin:50% 50%;">Pronóstico de la intensidad del viento en km/h</div>
<div class="a b1" style="left:5.5px;top:320.0px;width:439.2px;height:10.5px;"></div>
<div class="a dk" style="left:5.5px;top:331.2px;width:439.2px;height:18.8px;"></div>
<div class="a b1" style="left:5.5px;top:350.5px;width:439.2px;height:10.0px;"></div>
<div class="a b2" style="left:5.5px;top:360.5px;width:439.2px;height:18.5px;"></div>
<div class="a vl" style="left:64.5px;top:320.0px;width:1.0px;height:59.0px;"></div>
<div class="a vl" style="left:179.5px;top:320.0px;width:1.0px;height:59.0px;"></div>
<div class="a vl" style="left:307.5px;top:320.0px;width:1.0px;height:59.0px;"></div>
<div class="a vl" style="left:119.5px;top:331.0px;width:1.0px;height:19.3px;"></div>
<div class="a vl" style="left:237.2px;top:331.0px;width:1.0px;height:19.3px;"></div>
<div class="a vl" style="left:398.2px;top:331.0px;width:1.0px;height:19.3px;"></div>
<div class="a c" style="left:5.5px;top:321.60px;width:59.0px;font-size:7.13px;line-height:8px;transform:scaleX(0.926);transform-origin:50% 50%;">Día/Peligro</div>
<div class="a c" style="left:65.0px;top:321.60px;width:115.0px;font-size:7.13px;line-height:8px;transform:scaleX(0.926);transform-origin:50% 50%;">ALTO</div>
<div class="a c" style="left:180.0px;top:321.60px;width:128.0px;font-size:7.13px;line-height:8px;transform:scaleX(0.926);transform-origin:50% 50%;">MÁXIMO</div>
<div class="a c" style="left:308.0px;top:321.60px;width:136.7px;font-size:7.13px;line-height:8px;transform:scaleX(0.926);transform-origin:50% 50%;">EXTREMO</div>
<div class="a w" style="left:65.0px;top:333.80px;width:55.0px;font-size:7.13px;line-height:7.7px;transform:scaleX(0.926);transform-origin:50% 50%;">Sostenido<br>50-60</div>
<div class="a w" style="left:120.0px;top:333.80px;width:60.0px;font-size:7.13px;line-height:7.7px;transform:scaleX(0.926);transform-origin:50% 50%;">Rachas<br>70-85</div>
<div class="a w" style="left:180.0px;top:333.80px;width:57.6px;font-size:7.13px;line-height:7.7px;transform:scaleX(0.926);transform-origin:50% 50%;">Sostenido<br>60-70</div>
<div class="a w" style="left:237.6px;top:333.80px;width:70.4px;font-size:7.13px;line-height:7.7px;transform:scaleX(0.926);transform-origin:50% 50%;">Rachas<br>85-110</div>
<div class="a w" style="left:308.0px;top:333.80px;width:90.5px;font-size:7.13px;line-height:7.7px;transform:scaleX(0.926);transform-origin:50% 50%;">Sostenido<br>70-80</div>
<div class="a w" style="left:398.5px;top:333.80px;width:46.2px;font-size:7.13px;line-height:7.7px;transform:scaleX(0.926);transform-origin:50% 50%;">Rachas<br>&gt; 110</div>
<div class="a c" style="left:5.5px;top:352.00px;width:59.0px;font-size:7.13px;line-height:8px;transform:scaleX(0.926);transform-origin:50% 50%;">Mié. 19</div>
<div class="a c" style="left:65.0px;top:352.00px;width:115.0px;font-size:7.13px;line-height:8px;transform:scaleX(0.926);transform-origin:50% 50%;">Costa sur</div>
<div class="a c" style="left:180.0px;top:352.00px;width:128.0px;font-size:7.13px;line-height:8px;transform:scaleX(0.926);transform-origin:50% 50%;">Costas norte-centro</div>
<div class="a c" style="left:5.5px;top:363.40px;width:59.0px;font-size:7.13px;line-height:8px;transform:scaleX(0.926);transform-origin:50% 50%;">Jue. 20</div>
<div class="a c" style="left:65.0px;top:363.40px;width:115.0px;font-size:7.13px;line-height:8px;transform:scaleX(0.926);transform-origin:50% 50%;">Costa norte, decreciendo</div>
<div class="a c" style="left:180.0px;top:363.40px;width:128.0px;font-size:7.13px;line-height:8px;transform:scaleX(0.926);transform-origin:50% 50%;">Costas centro-sur, decreciendo</div>
<div class="a dk" style="left:6.5px;top:379.6px;width:437.5px;height:9.6px;"></div>
<div class="a w" style="left:6.5px;top:381.60px;width:437.5px;font-size:7.26px;line-height:8px;transform:scaleX(0.926);transform-origin:50% 50%;">Pronóstico de lluvia máxima en mm (litro/m2) por cuenca</div>
<div class="a b1" style="left:6.5px;top:391.5px;width:437.5px;height:10.0px;"></div>
<div class="a dk" style="left:6.5px;top:401.8px;width:437.5px;height:10.7px;"></div>
<div class="a b1" style="left:6.5px;top:412.5px;width:437.5px;height:13.0px;"></div>
<div class="a b2" style="left:6.5px;top:425.5px;width:437.5px;height:19.2px;"></div>
<div class="a vl" style="left:58.0px;top:391.5px;width:1.0px;height:53.2px;"></div>
<div class="a vl" style="left:162.2px;top:391.5px;width:1.0px;height:53.2px;"></div>
<div class="a vl" style="left:280.2px;top:391.5px;width:1.0px;height:53.2px;"></div>
<div class="a vl" style="left:403.3px;top:391.5px;width:1.0px;height:53.2px;"></div>
<div class="a c" style="left:6.5px;top:392.70px;width:51.5px;font-size:7.13px;line-height:8px;transform:scaleX(0.926);transform-origin:50% 50%;">Día/Peligro</div>
<div class="a c" style="left:59.0px;top:392.70px;width:103.5px;font-size:7.13px;line-height:8px;transform:scaleX(0.926);transform-origin:50% 50%;">BAJO</div>
<div class="a c" style="left:163.0px;top:392.70px;width:117.5px;font-size:7.13px;line-height:8px;transform:scaleX(0.926);transform-origin:50% 50%;">MEDIO</div>
<div class="a c" style="left:281.0px;top:392.70px;width:122.6px;font-size:7.13px;line-height:8px;transform:scaleX(0.926);transform-origin:50% 50%;">ALTO</div>
<div class="a c" style="left:404.0px;top:392.70px;width:40.0px;font-size:7.13px;line-height:8px;transform:scaleX(0.926);transform-origin:50% 50%;">MÁXIMO</div>
<div class="a w" style="left:59.0px;top:404.00px;width:103.5px;font-size:7.13px;line-height:8px;transform:scaleX(0.926);transform-origin:50% 50%;">20-50</div>
<div class="a w" style="left:163.0px;top:404.00px;width:117.5px;font-size:7.13px;line-height:8px;transform:scaleX(0.926);transform-origin:50% 50%;">50-70</div>
<div class="a w" style="left:281.0px;top:404.00px;width:122.6px;font-size:7.13px;line-height:8px;transform:scaleX(0.926);transform-origin:50% 50%;">70-150</div>
<div class="a w" style="left:404.0px;top:404.00px;width:40.0px;font-size:7.13px;line-height:8px;transform:scaleX(0.926);transform-origin:50% 50%;">&gt;150</div>
<div class="a c" style="left:6.5px;top:414.80px;width:51.5px;font-size:7.13px;line-height:8px;transform:scaleX(0.926);transform-origin:50% 50%;">Mié. 19</div>
<div class="a c" style="left:59.0px;top:414.80px;width:103.5px;font-size:7.13px;line-height:8px;transform:scaleX(0.926);transform-origin:50% 50%;">Papaloapan al Tonalá</div>
<div class="a c" style="left:163.0px;top:414.80px;width:117.5px;font-size:7.13px;line-height:8px;transform:scaleX(0.926);transform-origin:50% 50%;">Tuxpan al Colipa</div>
<div class="a c" style="left:6.5px;top:427.40px;width:51.5px;font-size:7.13px;line-height:8px;transform:scaleX(0.926);transform-origin:50% 50%;">Jue. 20</div>
<div class="a c" style="left:163.0px;top:427.30px;width:117.5px;font-size:7.13px;line-height:8px;transform:scaleX(0.926);transform-origin:50% 50%;">Partes altas del Papaloapan al<br>Tonalá</div>
<div class="a c" style="left:281.0px;top:427.30px;width:122.6px;font-size:7.13px;line-height:8px;transform:scaleX(0.926);transform-origin:50% 50%;">Los Tuxtlas y parte baja del<br>Coatzacoalcos al Tonalá</div>
<div class="a imp"></div>
<div class="a imptx"><b style="padding-left:6px;font-size:6.75px">Posibles IMPACTOS&nbsp; en la población</b><br><b>Viento</b>:<br><span class="bu">•</span>Destechamiento de casas, caídas de<br><span class="ind">árboles, anuncios, espectaculares, etc.</span><br><span class="bu">•</span>Suspensión de servicios estratégicos.<br><span class="bu">•</span>Oleaje elevado<br><b>Lluvia</b><br><span class="bu">•</span>Crecida de ríos/arroyos, inundaciones<br><span class="ind">en llanuras.</span><br><span class="bu">•</span>Deslaves, deslizamientos de tierra y<br><span class="ind">derrumbes</span><br><b>Ambiente frío</b></div>
<div class="a foot">Síganos a través de Facebook: <u>Caec Protección Civil</u>&nbsp; y en<br>Twitter: <u>@spcver</u>. Número telefónico:&nbsp; 228 8186812 Ext. 21142.<br>Elaboraron: Federico Acevedo/José Llanos</div>
</body>
</html>
